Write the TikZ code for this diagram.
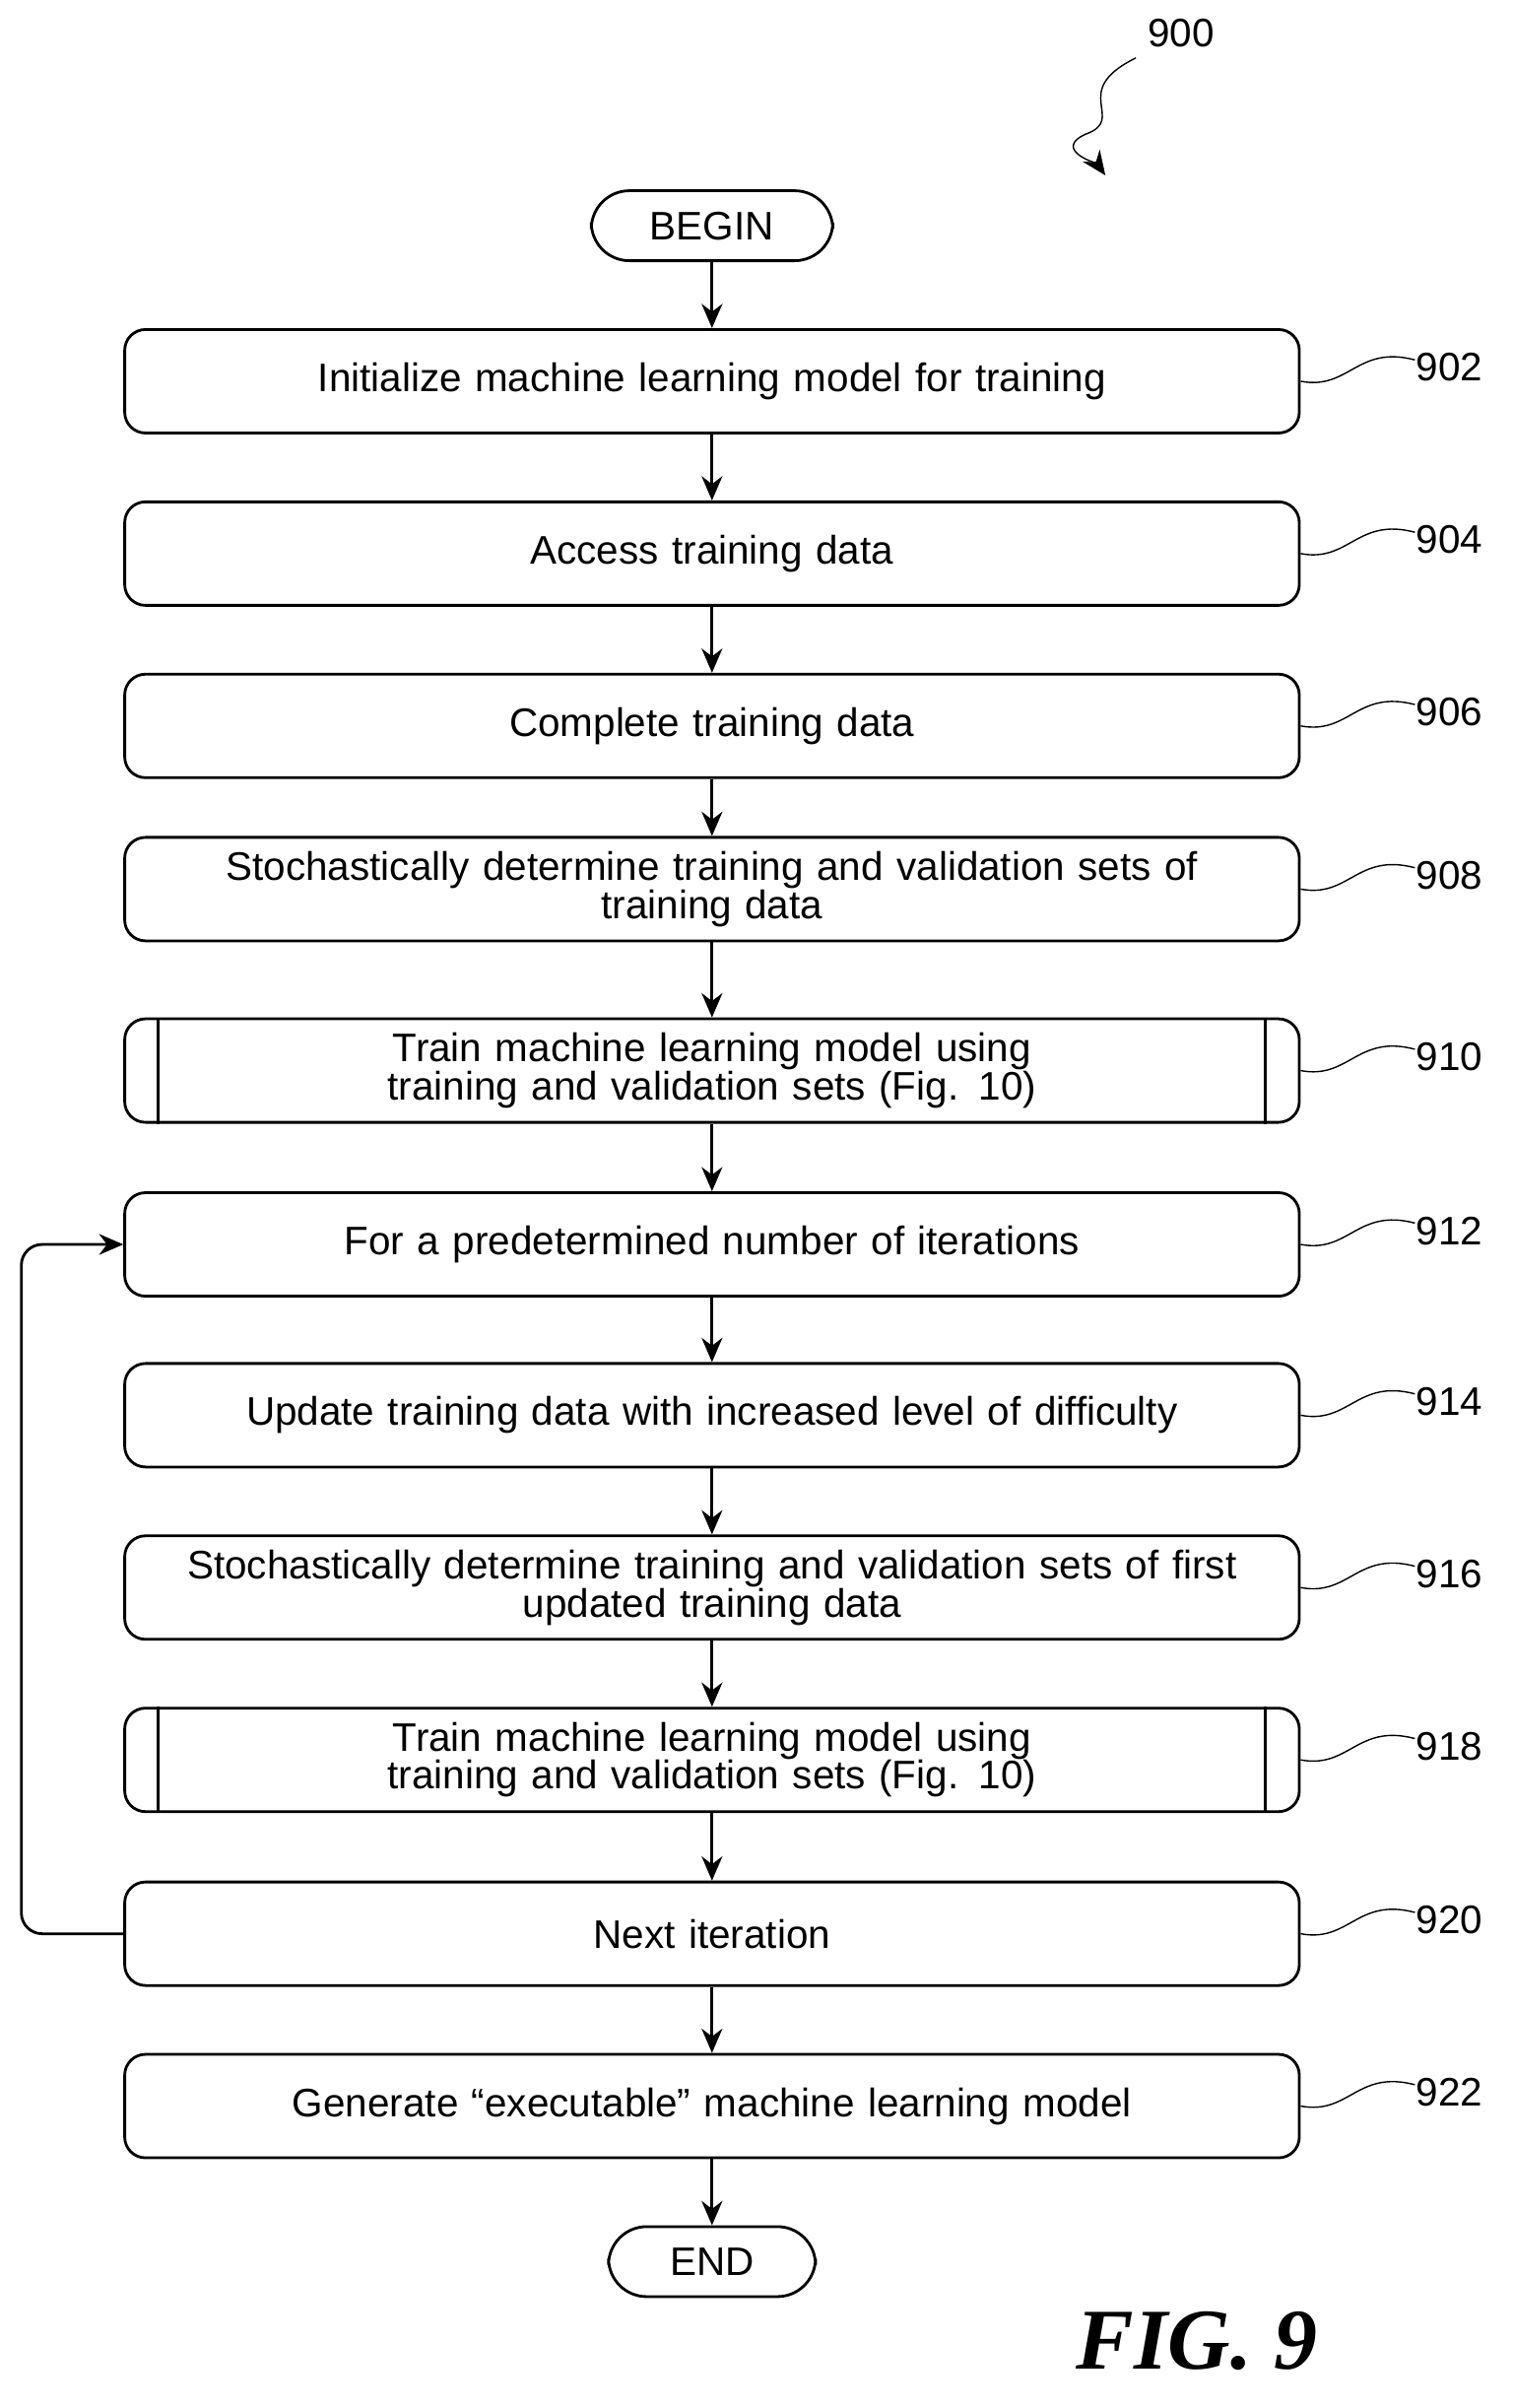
\documentclass[tikz,border=0pt]{standalone}
\usepackage{fontspec}
\setmainfont{Liberation Sans}
\newfontfamily\figfont{Liberation Serif}
\usetikzlibrary{arrows.meta}

\begin{document}
\begin{tikzpicture}[x=0.01548cm, y=-0.01548cm, >={Stealth[length=7pt,width=6pt]}, thick, every node/.style={font=\fontsize{11.5pt}{11pt}\selectfont}]
\tikzstyle{block}=[draw, rectangle, rounded corners=6pt, align=center, minimum width=11.92cm, minimum height=1.05cm, text width=11.6cm]
\tikzstyle{term}=[draw, rounded corners=11pt, minimum height=0.71cm, align=center]
\tikzstyle{ref}=[anchor=west, inner sep=0pt]
\useasboundingbox (0,0) rectangle (992,1579);
% terminals
\node[term, minimum width=2.45cm] (begin) at (467,148) {BEGIN};
\node[term, minimum width=2.1cm] (end) at (467,1483) {END};
% steps
\node[block] (init) at (467,250) {Initialize machine learning model for training};
\node[block] (access) at (467,363) {Access training data};
\node[block] (complete) at (467,476) {Complete training data};
\node[block] (split) at (467,583) {Stochastically determine training and validation sets of\\training data};
\node[block] (train) at (467,702) {Train machine learning model using\\training and validation sets (Fig. 10)};
\node[block] (loop) at (467,816) {For a predetermined number of iterations};
\node[block] (update) at (467,928) {Update training data with increased level of difficulty};
\node[block] (resplit) at (467,1041) {Stochastically determine training and validation sets of first\\updated training data};
\node[block] (retrain) at (467,1154) {Train machine learning model using\\training and validation sets (Fig. 10)};
\node[block] (next) at (467,1268) {Next iteration};
\node[block] (gen) at (467,1381) {Generate “executable” machine learning model};
% subprocess bars
\foreach \n in {train, retrain}{
  \draw ([xshift=0.356cm]\n.north west) -- ([xshift=0.356cm]\n.south west);
  \draw ([xshift=-0.356cm]\n.north east) -- ([xshift=-0.356cm]\n.south east);
}
% flow
\draw[->] (begin) -- (init);
\draw[->] (init) -- (access);
\draw[->] (access) -- (complete);
\draw[->] (complete) -- (split);
\draw[->] (split) -- (train);
\draw[->] (train) -- (loop);
\draw[->] (loop) -- (update);
\draw[->] (update) -- (resplit);
\draw[->] (resplit) -- (retrain);
\draw[->] (retrain) -- (next);
\draw[->] (next) -- (gen);
\draw[->] (gen) -- (end);
\draw[->, rounded corners=6pt] (next.west) -- (14,1268) -- (14,816) -- (loop.west);
% reference numerals
\foreach \n/\y/\t in {init/250/902, access/363/904, complete/476/906, split/583/908, train/702/910, loop/816/912, update/928/914, resplit/1041/916, retrain/1154/918, next/1268/920, gen/1381/922}{
  \draw[thin] (\n.east) .. controls (885,\y+6) and (890,\y-24) .. (928,\y-14);
  \node[ref] (r\t) at (928,\y-9) {\t};
}
\node[ref] (r900) at (752,22) {900};
\draw[thin] (745,38) .. controls (700,60) and (740,78) .. (712,88);
\draw[thin, ->] (712,88) .. controls (690,98) and (720,108) .. (725,115);
\node[font=\figfont\bfseries\itshape\fontsize{25pt}{25pt}\selectfont] (fig) at (785,1535) {FIG. 9};
\end{tikzpicture}
\end{document}
